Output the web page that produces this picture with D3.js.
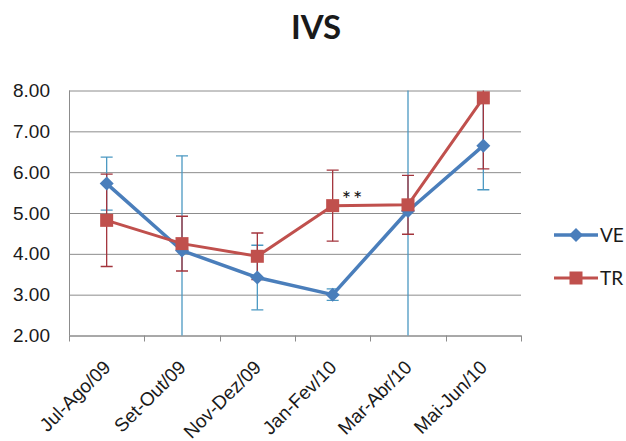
<!DOCTYPE html>
<html>
<head>
<meta charset="utf-8">
<script src="https://cdn.jsdelivr.net/npm/d3@7"></script>
<style>
  body { margin: 0; background: #fff; }
  svg { display: block; font-family: Lato, "Open Sans", sans-serif; }
  .grid line { stroke: #8c8c8c; stroke-width: 1; }
  .grid .domain { display: none; }
  .axis path, .axis line { stroke: #8c8c8c; }
  .axis text { fill: #1a1a1a; font-size: 19px; }
</style>
</head>
<body>
<svg class="chart"></svg>
<script>
// chart data
const categories = ["Jul-Ago/09", "Set-Out/09", "Nov-Dez/09", "Jan-Fev/10", "Mar-Abr/10", "Mai-Jun/10"];
const veValues = [5.72, 4.08, 3.42, 3.00, 5.05, 6.65];
const veErrors = [0.65, 2.32, 0.79, 0.14, 3.60, 1.08];
const trValues = [4.82, 4.25, 3.94, 5.18, 5.20, 7.82];
const trErrors = [1.13, 0.67, 0.57, 0.87, 0.72, 1.74];
const yTicks = [2, 3, 4, 5, 6, 7, 8];

const series = [
    { name: "VE", values: veValues, errors: veErrors, color: "#4a7ebb", errColor: "#4b98c2", marker: "diamond" },
    { name: "TR", values: trValues, errors: trErrors, color: "#c0504d", errColor: "#a3343c", marker: "square" }
];

//svg chart variables
var totalWidth = 626, totalHeight = 441;
var margin = {top: 90.5, right: 105, bottom: 105.5, left: 69};
var width = totalWidth - margin.left - margin.right;
var height = totalHeight - margin.top - margin.bottom;

var chart = d3.select(".chart")
    .attr("width", totalWidth)
    .attr("height", totalHeight);

var x = d3.scaleBand()
    .domain(categories)
    .range([0, width])
    .padding(0);
var y = d3.scaleLinear()
    .domain([2, 8])
    .range([height, 0]);

//clip for error bars
chart.append("defs").append("clipPath")
    .attr("id", "plotclip")
    .append("rect")
    .attr("width", width)
    .attr("height", height);

var plot = chart.append("g")
    .attr("transform", "translate(" + margin.left + "," + margin.top + ")");

// y gridlines
plot.append("g")
    .attr("class", "grid")
    .call(d3.axisLeft(y).tickValues(yTicks).tickSize(-width).tickFormat(""));

// y axis labels
var yAxis = plot.append("g")
    .attr("class", "axis")
    .call(d3.axisLeft(y).tickValues(yTicks).tickSize(0).tickPadding(19).tickFormat(d3.format(".2f")));
yAxis.select(".domain").attr("d", "M0.5,0V" + height);

// x axis with ticks at the band boundaries
var xAxis = plot.append("g")
    .attr("class", "axis")
    .attr("transform", "translate(0," + height + ")")
    .call(d3.axisBottom(x).tickSize(0).tickSizeOuter(0));
xAxis.selectAll("text")
    .style("text-anchor", "end")
    .attr("x", 0)
    .attr("y", 0)
    .attr("dx", 0)
    .attr("dy", 0)
    .attr("transform", "translate(5,33) rotate(-45)");
xAxis.selectAll(".bound")
    .data(d3.range(categories.length + 1))
    .enter()
    .append("line")
    .attr("class", "bound")
    .attr("x1", function (i) { return Math.round(i * x.step()) + 0.5; })
    .attr("x2", function (i) { return Math.round(i * x.step()) + 0.5; })
    .attr("y1", 0)
    .attr("y2", 6);

var cx = function (i) { return x(categories[i]) + x.bandwidth() / 2; };

// error bars (clipped to plot area)
var errLayer = plot.append("g").attr("clip-path", "url(#plotclip)");
series.forEach(function (s) {
    var g = errLayer.append("g")
        .attr("stroke", s.errColor)
        .attr("stroke-width", 1.3);
    s.values.forEach(function (v, i) {
        var top = y(v + s.errors[i]), bot = y(v - s.errors[i]);
        g.append("line").attr("x1", cx(i)).attr("x2", cx(i)).attr("y1", top).attr("y2", bot);
        g.append("line").attr("x1", cx(i) - 6).attr("x2", cx(i) + 6).attr("y1", top).attr("y2", top);
        g.append("line").attr("x1", cx(i) - 6).attr("x2", cx(i) + 6).attr("y1", bot).attr("y2", bot);
    });
});

function drawMarker(g, type, px, py, color) {
    if (type === "diamond") {
        g.append("path")
            .attr("d", "M" + px + "," + (py - 7) + "L" + (px + 7) + "," + py + "L" + px + "," + (py + 7) + "L" + (px - 7) + "," + py + "Z")
            .attr("fill", color);
    } else {
        g.append("rect")
            .attr("x", px - 6.5).attr("y", py - 6.5)
            .attr("width", 13).attr("height", 13)
            .attr("fill", color);
    }
}

// lines + markers
var line = d3.line()
    .x(function (d, i) { return cx(i); })
    .y(function (d) { return y(d); });
series.forEach(function (s) {
    var g = plot.append("g");
    g.append("path")
        .datum(s.values)
        .attr("d", line)
        .attr("fill", "none")
        .attr("stroke", s.color)
        .attr("stroke-width", s.marker === "diamond" ? 3.5 : 3)
        .attr("stroke-linejoin", "round");
    s.values.forEach(function (v, i) {
        drawMarker(g, s.marker, cx(i), y(v), s.color);
    });
});

// significance annotation
plot.append("text")
    .attr("x", cx(3) + 9)
    .attr("y", y(trValues[3]) + 1)
    .attr("font-size", "22px")
    .attr("letter-spacing", "2px")
    .attr("fill", "#111")
    .text("**");

// title
chart.append("text")
    .attr("x", 316)
    .attr("y", 39)
    .attr("text-anchor", "middle")
    .attr("font-size", "33px")
    .attr("font-weight", "bold")
    .attr("fill", "#1a1a1a")
    .text("IVS");

//legend
var legend = chart.append("g").attr("class", "legend");
series.forEach(function (s, i) {
    var ly = 235 + i * 43;
    legend.append("line")
        .attr("x1", 554).attr("x2", 598)
        .attr("y1", ly).attr("y2", ly)
        .attr("stroke", s.color)
        .attr("stroke-width", s.marker === "diamond" ? 3.5 : 3);
    drawMarker(legend, s.marker, 576, ly, s.color);
    legend.append("text")
        .attr("x", 600)
        .attr("y", ly + 7)
        .attr("font-size", "19px")
        .attr("fill", "#1a1a1a")
        .text(s.name);
});
</script>
</body>
</html>
